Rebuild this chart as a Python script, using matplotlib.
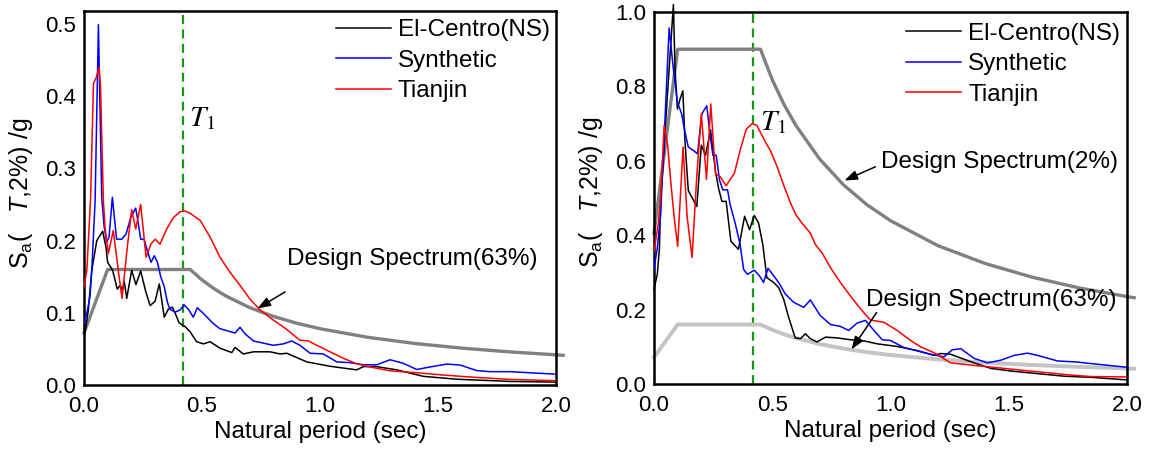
import numpy as np
import matplotlib
matplotlib.use("Agg")
import matplotlib.pyplot as plt

plt.rcParams['font.family'] = ['Liberation Sans', 'DejaVu Sans']
plt.rcParams['mathtext.fontset'] = 'custom'
plt.rcParams['mathtext.rm'] = 'Liberation Sans'
plt.rcParams['mathtext.it'] = 'Liberation Sans:italic'

# ---- 63% level spectra ----
a_el_T = [0, 0.018, 0.033, 0.054, 0.079, 0.093, 0.100, 0.121, 0.141, 0.153, 0.163, 0.170,
          0.181, 0.202, 0.220, 0.240, 0.261, 0.280, 0.301, 0.319, 0.340, 0.357, 0.374, 0.388,
          0.403, 0.428, 0.449, 0.477, 0.506, 0.534, 0.576, 0.626, 0.640, 0.675, 0.718, 0.788,
          0.831, 0.859, 0.944, 1.042, 1.155, 1.184, 1.240, 1.325, 1.438, 1.580, 1.805, 2.0]
a_el_sa = [0.064, 0.103, 0.159, 0.200, 0.213, 0.191, 0.170, 0.159, 0.133, 0.138, 0.131, 0.144,
           0.120, 0.159, 0.139, 0.158, 0.130, 0.110, 0.116, 0.140, 0.094, 0.105, 0.108, 0.098,
           0.086, 0.081, 0.074, 0.060, 0.057, 0.060, 0.051, 0.045, 0.052, 0.043, 0.046, 0.046,
           0.043, 0.044, 0.032, 0.026, 0.021, 0.0255, 0.0255, 0.021, 0.012, 0.008, 0.005, 0.004]

a_syn_T = [0, 0.014, 0.025, 0.033, 0.047, 0.061, 0.075, 0.085, 0.096, 0.106, 0.120, 0.138,
           0.160, 0.178, 0.198, 0.209, 0.219, 0.228, 0.240, 0.254, 0.270, 0.284, 0.298, 0.311,
           0.325, 0.340, 0.353, 0.364, 0.386, 0.407, 0.424, 0.442, 0.463, 0.480, 0.506, 0.548,
           0.576, 0.619, 0.640, 0.661, 0.682, 0.718, 0.760, 0.802, 0.845, 0.880, 0.915, 0.958,
           1.014, 1.071, 1.127, 1.184, 1.240, 1.297, 1.353, 1.410, 1.466, 1.537, 1.593, 1.664,
           1.720, 1.805, 2.0]
a_syn_sa = [0.085, 0.103, 0.122, 0.160, 0.255, 0.499, 0.260, 0.220, 0.198, 0.205, 0.260, 0.202,
            0.202, 0.209, 0.232, 0.239, 0.245, 0.228, 0.202, 0.202, 0.184, 0.170, 0.179, 0.170,
            0.150, 0.136, 0.115, 0.105, 0.101, 0.104, 0.111, 0.105, 0.094, 0.107, 0.099, 0.085,
            0.078, 0.074, 0.072, 0.080, 0.071, 0.061, 0.058, 0.055, 0.057, 0.061, 0.055, 0.044,
            0.043, 0.032, 0.031, 0.028, 0.028, 0.035, 0.030, 0.0215, 0.025, 0.029, 0.0277, 0.020,
            0.0185, 0.0185, 0.015]

a_tj_T = [0, 0.012, 0.028, 0.040, 0.051, 0.064, 0.070, 0.082, 0.089, 0.103, 0.124, 0.145,
          0.161, 0.184, 0.202, 0.219, 0.240, 0.263, 0.283, 0.302, 0.322, 0.350, 0.379, 0.407,
          0.428, 0.449, 0.492, 0.534, 0.576, 0.619, 0.661, 0.703, 0.746, 0.802, 0.859, 0.915,
          0.951, 0.986, 1.042, 1.099, 1.155, 1.212, 1.297, 1.410, 1.523, 1.664, 1.805, 2.0]
a_tj_sa = [0.136, 0.159, 0.260, 0.418, 0.425, 0.440, 0.412, 0.255, 0.218, 0.182, 0.214, 0.159,
           0.120, 0.193, 0.243, 0.216, 0.250, 0.177, 0.195, 0.202, 0.195, 0.216, 0.232, 0.240,
           0.241, 0.238, 0.228, 0.205, 0.177, 0.156, 0.138, 0.119, 0.104, 0.090, 0.077, 0.062,
           0.061, 0.055, 0.046, 0.037, 0.0295, 0.025, 0.0197, 0.017, 0.0138, 0.0105, 0.0078, 0.006]

# ---- 2% level spectra ----
b_el_T = [0, 0.014, 0.023, 0.028, 0.055, 0.082, 0.089, 0.099, 0.110, 0.122, 0.131, 0.145,
          0.181, 0.200, 0.218, 0.239, 0.260, 0.273, 0.287, 0.305, 0.325, 0.357, 0.383, 0.404,
          0.424, 0.442, 0.460, 0.477, 0.506, 0.527, 0.548, 0.569, 0.597, 0.619, 0.640, 0.661,
          0.689, 0.725, 0.774, 0.830, 0.887, 0.944, 1.028, 1.113, 1.184, 1.212, 1.254, 1.339,
          1.424, 1.508, 1.621, 1.734, 1.847, 2.0]
b_el_sa = [0.255, 0.295, 0.366, 0.490, 0.760, 1.020, 0.846, 0.739, 0.766, 0.788, 0.651, 0.520,
           0.477, 0.642, 0.615, 0.683, 0.571, 0.526, 0.491, 0.491, 0.384, 0.362, 0.451, 0.415,
           0.453, 0.433, 0.375, 0.286, 0.273, 0.259, 0.228, 0.180, 0.124, 0.122, 0.135, 0.122,
           0.113, 0.126, 0.124, 0.119, 0.116, 0.108, 0.101, 0.090, 0.077, 0.082, 0.080, 0.060,
           0.042, 0.035, 0.028, 0.021, 0.018, 0.011]

b_syn_T = [0, 0.014, 0.028, 0.040, 0.064, 0.082, 0.099, 0.117, 0.131, 0.145, 0.166, 0.184,
           0.202, 0.223, 0.237, 0.249, 0.263, 0.277, 0.291, 0.311, 0.322, 0.343, 0.364, 0.379,
           0.395, 0.424, 0.446, 0.463, 0.482, 0.506, 0.527, 0.555, 0.590, 0.633, 0.661, 0.703,
           0.746, 0.788, 0.823, 0.859, 0.894, 0.930, 0.965, 1.0, 1.057, 1.113, 1.169, 1.226,
           1.261, 1.297, 1.353, 1.410, 1.466, 1.523, 1.579, 1.621, 1.706, 1.791, 1.847, 2.0]
b_syn_sa = [0.309, 0.366, 0.455, 0.620, 0.957, 0.846, 0.757, 0.726, 0.677, 0.637, 0.628, 0.619,
            0.726, 0.748, 0.672, 0.615, 0.615, 0.548, 0.522, 0.522, 0.482, 0.433, 0.375, 0.308,
            0.295, 0.306, 0.291, 0.273, 0.311, 0.291, 0.273, 0.242, 0.220, 0.206, 0.226, 0.184,
            0.160, 0.155, 0.144, 0.164, 0.171, 0.144, 0.119, 0.117, 0.098, 0.089, 0.080, 0.073,
            0.092, 0.095, 0.069, 0.057, 0.064, 0.077, 0.083, 0.077, 0.062, 0.059, 0.055, 0.045]

b_tj_T = [0, 0.018, 0.028, 0.043, 0.058, 0.070, 0.085, 0.100, 0.123, 0.140, 0.161, 0.180,
          0.200, 0.222, 0.240, 0.260, 0.280, 0.305, 0.340, 0.365, 0.390, 0.415, 0.435, 0.473,
          0.492, 0.520, 0.548, 0.576, 0.600, 0.626, 0.661, 0.682, 0.710, 0.746, 0.788, 0.830,
          0.873, 0.915, 0.972, 1.028, 1.085, 1.127, 1.184, 1.254, 1.339, 1.480, 1.621, 1.763,
          1.847, 2.0]
b_tj_sa = [0.357, 0.430, 0.500, 0.695, 0.640, 0.550, 0.450, 0.370, 0.637, 0.450, 0.340, 0.550,
           0.726, 0.550, 0.753, 0.565, 0.557, 0.533, 0.567, 0.630, 0.685, 0.700, 0.695, 0.648,
           0.628, 0.585, 0.535, 0.488, 0.455, 0.432, 0.406, 0.375, 0.353, 0.313, 0.273, 0.237,
           0.202, 0.172, 0.166, 0.144, 0.117, 0.100, 0.084, 0.057, 0.051, 0.042, 0.033, 0.024,
           0.020, 0.019]

# ---- design spectra ----
ds_T = [0, 0.10, 0.45, 0.50, 0.55, 0.60, 0.70, 0.80, 0.90, 1.00, 1.20, 1.40, 1.60, 1.80, 2.00, 2.03]
ds63_sa = [0.072, 0.160, 0.160, 0.1455, 0.1336, 0.1235, 0.1075, 0.0953, 0.0857, 0.0780,
           0.0662, 0.0576, 0.0511, 0.0460, 0.0418, 0.0412]
ds2_sa = [0.405, 0.900, 0.900, 0.818, 0.751, 0.695, 0.605, 0.536, 0.482, 0.439,
          0.372, 0.324, 0.287, 0.258, 0.235, 0.232]

T1 = 0.42
series_names = ['El-Centro(NS)', 'Synthetic', 'Tianjin']
series_colors = ['black', '#0000ff', '#ff0000']

fig = plt.figure(figsize=(11.51, 4.57), dpi=100)
axL = fig.add_axes([0.0730, 0.1575, 0.4101, 0.8184])
axR = fig.add_axes([0.5682, 0.1597, 0.4110, 0.8140])


def base_axes(ax, ymax, yticks, ylab_y):
    ax.set_xlim(0, 2.0)
    ax.set_ylim(0, ymax)
    ax.set_xticks([0, 0.5, 1.0, 1.5, 2.0])
    ax.set_xticklabels(['%.1f' % v for v in [0, 0.5, 1.0, 1.5, 2.0]])
    ax.set_yticks(yticks)
    ax.set_yticklabels(['%.1f' % v for v in yticks])
    ax.tick_params(length=0, labelsize=16)
    ax.tick_params(axis='x', pad=8)
    ax.tick_params(axis='y', pad=5.5)
    for s in ax.spines.values():
        s.set_linewidth(1.8)
    ax.set_xlabel('Natural period (sec)', fontsize=17.5, labelpad=3)
    ax.set_ylabel(r'$\mathrm{S_a}$(   $T$,2%) /g', fontsize=18)
    ax.yaxis.set_label_coords(-0.104, ylab_y)
    ax.axvline(T1, color='#119911', lw=1.6, ls=(0, (4, 2.5)), zorder=1)


def draw_records(ax, data, clip_first=True):
    lines = []
    for (t, sa), name, c in zip(data, series_names, series_colors):
        ln, = ax.plot(t, sa, color=c, lw=1.1, label=name, zorder=3)
        lines.append(ln)
    lines[0].set_clip_on(clip_first)
    return lines


def arrow(ax, head, tail):
    ax.annotate('', xy=head, xytext=tail,
                arrowprops=dict(arrowstyle='-|>,head_length=0.6,head_width=0.22',
                                color='black', lw=1.1, shrinkA=0, shrinkB=0,
                                mutation_scale=13))


# left panel: 63% exceedance
base_axes(axL, 0.518, [0, 0.1, 0.2, 0.3, 0.4, 0.5], 0.513)
axL.plot(ds_T, ds63_sa, color='#808080', lw=2.4, clip_on=False, zorder=2)
draw_records(axL, [(a_el_T, a_el_sa), (a_syn_T, a_syn_sa), (a_tj_T, a_tj_sa)])
axL.text(0.86, 0.175, 'Design Spectrum(63%)', fontsize=17.5, va='center', ha='left')
arrow(axL, (0.735, 0.106), (0.852, 0.129))
axL.text(0.444, 0.359, r'$T_1$', fontsize=21, math_fontfamily='stix', va='baseline')

# right panel: 2% exceedance
base_axes(axR, 1.0, [0, 0.2, 0.4, 0.6, 0.8, 1.0], 0.516)
axR.plot(ds_T, ds2_sa, color='#808080', lw=2.4, clip_on=False, zorder=2)
axR.plot(ds_T, ds63_sa, color='#c4c4c4', lw=2.8, clip_on=False, zorder=2)
draw_records(axR, [(b_el_T, b_el_sa), (b_syn_T, b_syn_sa), (b_tj_T, b_tj_sa)], clip_first=False)
axR.text(0.958, 0.597, 'Design Spectrum(2%)', fontsize=17.5, va='center', ha='left')
arrow(axR, (0.805, 0.547), (0.936, 0.584))
axR.text(0.898, 0.227, 'Design Spectrum(63%)', fontsize=17.5, va='center', ha='left')
arrow(axR, (0.835, 0.093), (0.941, 0.192))
axR.text(0.449, 0.683, r'$T_1$', fontsize=21, math_fontfamily='stix', va='baseline')

for ax, top in [(axL, 0.978), (axR, 0.971)]:
    ax.legend(loc='upper left', bbox_to_anchor=(0.533, top), frameon=False, fontsize=17.5,
              handlelength=2.26, handletextpad=0.3, labelspacing=0.35, borderpad=0,
              borderaxespad=0)

fig.savefig('out.png', dpi=100)
